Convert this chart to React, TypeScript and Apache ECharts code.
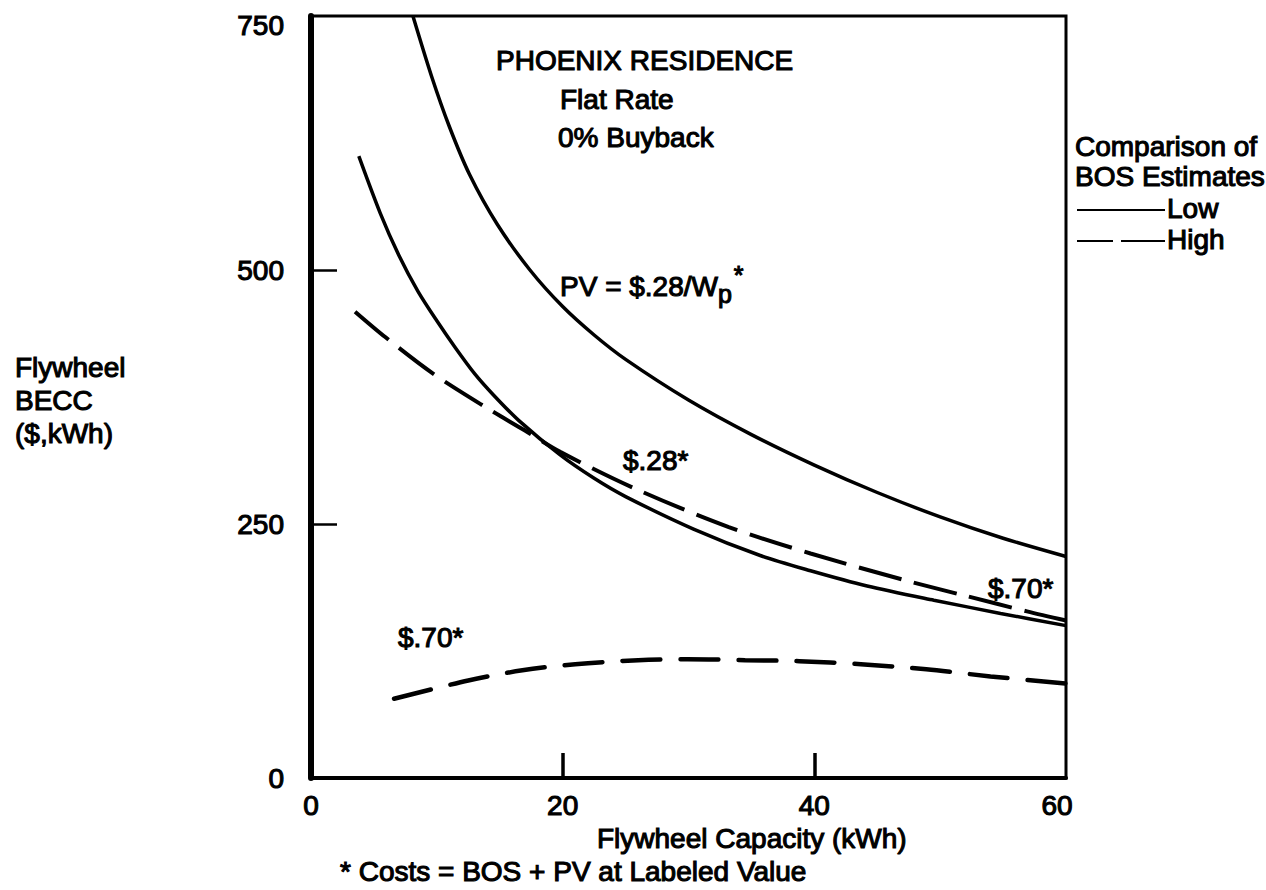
import React, { useEffect, useRef } from "react";
import * as echarts from "echarts";

// Axis tick values
const xTickValues = [0, 20, 40, 60];
const yTickValues = [0, 250, 500, 750];

// Flywheel BECC ($/kWh) against flywheel capacity (kWh)
// Low BOS estimate, PV at $.28/Wp
const lowBosPv28: [number, number][] = [
  [8.1, 750], [9.6, 690], [11.0, 641], [12.6, 594], [14.8, 545], [17.4, 500],
  [20.0, 464], [22.5, 436], [25.0, 412], [30.0, 372], [35.0, 338], [40.0, 308],
  [45.0, 281], [50.0, 257], [55.0, 236], [60.0, 218],
];
// Low BOS estimate, PV at $.70/Wp
const lowBosPv70: [number, number][] = [
  [3.8, 612], [5.5, 556], [7.0, 514], [8.5, 479], [10.0, 450], [11.5, 423],
  [13.0, 398], [14.5, 377], [16.5, 352], [19.8, 318], [22.5, 295], [25.0, 277],
  [30.4, 245], [35.7, 219], [39.7, 204], [44.2, 189], [49.5, 175], [54.8, 162],
  [60.0, 150],
];
// High BOS estimate, PV at $.28/Wp
const highBosPv28: [number, number][] = [
  [3.5, 459], [5.9, 434], [9.7, 398], [14.0, 364], [17.0, 342], [19.8, 321],
  [25.9, 284], [33.2, 247], [39.7, 221], [47.1, 195], [51.8, 180], [56.9, 164],
  [60.0, 155],
];
// High BOS estimate, PV at $.70/Wp
const highBosPv70: [number, number][] = [
  [6.6, 78], [12.5, 96], [16.8, 106], [21.0, 112], [26.0, 116], [29.9, 117],
  [34.5, 116], [38.8, 115], [43.7, 112], [48.9, 107], [54.0, 100], [60.0, 93],
];

const FONT = '"Liberation Sans", Arial, Helvetica, sans-serif';
const INK = "#000";
const WEIGHT = 1.1; // outline that thickens the glyphs a little

function label(x: number, y: number, text: string, extra: Record<string, unknown> = {}) {
  return {
    type: "text",
    x,
    y,
    silent: true,
    z: 10,
    style: {
      text,
      fill: INK,
      stroke: INK,
      lineWidth: WEIGHT,
      fontSize: 28,
      fontFamily: FONT,
      align: "left",
      verticalAlign: "middle",
      ...extra,
    },
  };
}

function rule(x1: number, y1: number, x2: number, y2: number) {
  return {
    type: "line",
    silent: true,
    z: 10,
    shape: { x1, y1, x2, y2 },
    style: { stroke: INK, lineWidth: 2 },
  };
}

export default function App() {
  const ref = useRef<HTMLDivElement>(null);

  useEffect(() => {
    const chart = echarts.init(ref.current!, null, { renderer: "svg" });

    const solid = { color: INK, width: 3.5, type: "solid" };
    const tickLabel = {
      fontSize: 28,
      fontFamily: FONT,
      color: INK,
      textBorderColor: INK,
      textBorderWidth: WEIGHT,
    };

    chart.setOption({
      animation: false,
      backgroundColor: "#fff",
      grid: {
        left: 311,
        right: 200,
        top: 16,
        bottom: 112,
        show: true,
        borderColor: INK,
        borderWidth: 3,
        backgroundColor: "transparent",
      },
      xAxis: {
        type: "value",
        min: 0,
        max: 60,
        interval: 20,
        axisLine: { show: true, onZero: false, lineStyle: { color: INK, width: 4 } },
        axisTick: {
          show: true,
          inside: true,
          length: 25,
          customValues: xTickValues.slice(1, -1),
          lineStyle: { color: INK, width: 3.5 },
        },
        axisLabel: {
          ...tickLabel,
          margin: 13,
          customValues: xTickValues,
          formatter: (v: number) =>
            v === xTickValues[xTickValues.length - 1] ? `{last|${v}}` : `${v}`,
          rich: { last: { ...tickLabel, padding: [0, 18, 0, 0] } },
        },
        splitLine: { show: false },
      },
      yAxis: {
        type: "value",
        min: 0,
        max: 750,
        interval: 250,
        axisLine: { show: true, onZero: false, lineStyle: { color: INK, width: 6 } },
        axisTick: {
          show: true,
          inside: true,
          length: 26,
          customValues: yTickValues.slice(1, -1),
          lineStyle: { color: INK, width: 2.5 },
        },
        axisLabel: {
          ...tickLabel,
          margin: 27,
          customValues: yTickValues,
          formatter: (v: number) =>
            v === yTickValues[yTickValues.length - 1] ? `{top|${v}}` : `${v}`,
          rich: { top: { ...tickLabel, padding: [18, 0, 0, 0] } },
        },
        splitLine: { show: false },
      },
      series: [
        {
          name: "Low BOS, PV $.28",
          type: "line",
          data: lowBosPv28,
          smooth: 0.3,
          showSymbol: false,
          symbol: "none",
          lineStyle: solid,
        },
        {
          name: "Low BOS, PV $.70",
          type: "line",
          data: lowBosPv70,
          smooth: 0.3,
          showSymbol: false,
          symbol: "none",
          lineStyle: solid,
        },
        {
          name: "High BOS, PV $.28",
          type: "line",
          data: highBosPv28,
          smooth: 0.3,
          showSymbol: false,
          symbol: "none",
          lineStyle: { color: INK, width: 4, type: [44, 13], cap: "butt" },
        },
        {
          name: "High BOS, PV $.70",
          type: "line",
          data: highBosPv70,
          smooth: 0.3,
          showSymbol: false,
          symbol: "none",
          lineStyle: { color: INK, width: 4.5, type: [38, 20], cap: "round" },
        },
      ],
      graphic: [
        label(496, 60, "PHOENIX RESIDENCE"),
        label(560, 99, "Flat Rate"),
        label(558, 137, "0% Buyback"),

        label(1075, 146, "Comparison of"),
        label(1075, 176, "BOS Estimates"),
        rule(1077, 210, 1165, 210),
        label(1167, 208, "Low"),
        rule(1077, 241, 1113, 241),
        rule(1121, 241, 1165, 241),
        label(1167, 239, "High"),

        label(15, 400, "Flywheel\nBECC\n($,kWh)", { lineHeight: 33 }),
        label(597, 838, "Flywheel Capacity (kWh)"),
        label(340, 871, "* Costs = BOS + PV at Labeled Value"),

        label(560, 286, "{a|PV = $.28/W}{b|p}{c|*}", {
          rich: {
            a: { fontSize: 28, fontFamily: FONT, fill: INK, stroke: INK, lineWidth: WEIGHT },
            b: {
              fontSize: 25, fontFamily: FONT, fill: INK, stroke: INK, lineWidth: WEIGHT,
              padding: [15, 0, 0, 0],
            },
            c: {
              fontSize: 25, fontFamily: FONT, fill: INK, stroke: INK, lineWidth: WEIGHT,
              padding: [0, 0, 22, 2],
            },
          },
        }),
        label(623, 460, "$.28*"),
        label(988, 588, "$.70*"),
        label(398, 637, "$.70*"),
      ],
    });

    return () => chart.dispose();
  }, []);

  return (
    <div
      ref={ref}
      style={{ position: "absolute", left: 0, top: 0, width: 1266, height: 890 }}
    />
  );
}
